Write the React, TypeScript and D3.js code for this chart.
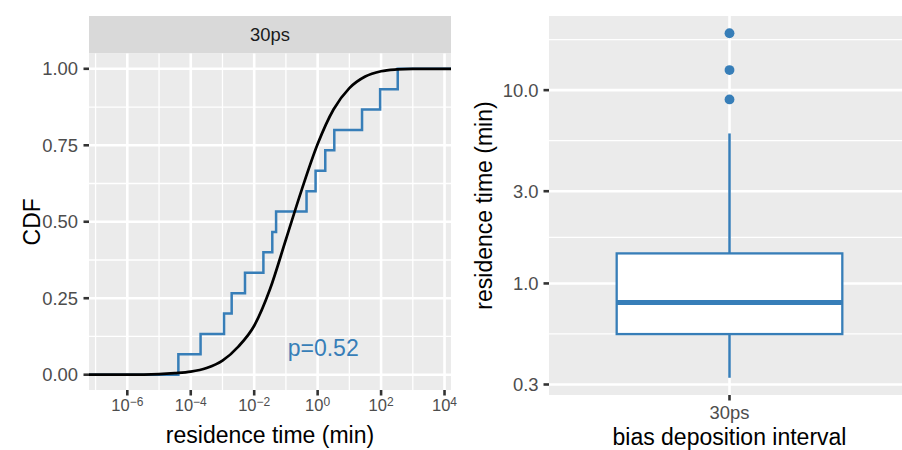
import React from "react";
import * as d3 from "d3";

// ---------- data ----------
const facetLabel = "30ps";
// residence times (min) of the 15 events, read from the ECDF steps
const residenceTimes = [
  4.07e-5, 2.04e-4, 1.12e-3, 1.95e-3, 5.13e-3, 0.0195, 0.0372, 0.049, 0.447,
  0.861, 1.74, 3.35, 25.1, 93.3, 335,
];
// fitted theoretical CDF (black curve)
const curveTime = [
  6.2e-8, 1e-6, 1e-5, 3.16e-5, 1e-4, 3.16e-4, 1e-3, 3.16e-3, 0.01, 0.0316, 0.1,
  0.316, 1, 3.16, 10, 31.6, 100, 316, 1000, 1.6e4,
];
const curveCdf = [
  0, 0.0002, 0.002, 0.005, 0.01, 0.022, 0.046, 0.092, 0.16, 0.28, 0.442, 0.605,
  0.754, 0.867, 0.937, 0.975, 0.992, 0.998, 1.0, 1.0,
];
const pLabel = "p=0.52";
const pLabelPos = { x: 1.5, y: 0.06 };

const xLimits = [6.2e-8, 1.6e4];
const xMajorExp = [-6, -4, -2, 0, 2, 4];
const xMinorExp = [-7, -5, -3, -1, 1, 3];
const yCdfTicks = [0, 0.25, 0.5, 0.75, 1];
const yCdfTickLabels = ["0.00", "0.25", "0.50", "0.75", "1.00"];
const yCdfMinor = [0.125, 0.375, 0.625, 0.875];

// boxplot summary (min)
const boxCategories = ["30ps"];
const boxLowerWhisker = [0.325];
const boxQ1 = [0.547];
const boxMedian = [0.797];
const boxQ3 = [1.43];
const boxUpperWhisker = [5.97];
const boxOutliers = [[8.95, 12.7, 19.7]];
const yBoxTicks = [0.3, 1, 3, 10];
const yBoxTickLabels = ["0.3", "1.0", "3.0", "10.0"];

// ---------- style ----------
const BLUE = "#377EB8";
const PANEL = "#EBEBEB";
const STRIP = "#D9D9D9";
const TICKCOL = "#333333";
const LABCOL = "#4D4D4D";
const FONT = "'Liberation Sans', Arial, Helvetica, sans-serif";
const TICK_FS = 18.4;
const TITLE_FS = 23;
const MAJ = 2.6;
const MIN = 1.3;

export default function App() {
  const W = 902;
  const H = 450;

  // Left panel geometry
  const L = { x0: 89, x1: 451, y0: 53.5, y1: 390, stripTop: 16 };
  const x = d3.scaleLog().domain(xLimits).range([L.x0, L.x1]);
  const y = d3.scaleLinear().domain([-0.05, 1.05]).range([L.y1, L.y0]);

  const n = residenceTimes.length;
  const sorted = [...residenceTimes].sort((a, b) => a - b);
  const ecdfPts: [number, number][] = [[xLimits[0], 0]];
  sorted.forEach((t, i) => ecdfPts.push([t, (i + 1) / n]));
  ecdfPts.push([xLimits[1], 1]);
  const stepLine = d3
    .line<[number, number]>()
    .x((d) => x(d[0]))
    .y((d) => y(d[1]))
    .curve(d3.curveStepAfter);
  const curvePts: [number, number][] = curveTime.map((t, i) => [t, curveCdf[i]]);
  const smoothLine = d3
    .line<[number, number]>()
    .x((d) => x(d[0]))
    .y((d) => y(d[1]))
    .curve(d3.curveMonotoneX);

  // Right panel geometry
  const R = { x0: 549, x1: 910, y0: 16, y1: 395 };
  const allVals = [
    ...boxLowerWhisker,
    ...boxUpperWhisker,
    ...boxOutliers.flat(),
  ];
  const lmin = Math.log10(d3.min(allVals)!);
  const lmax = Math.log10(d3.max(allVals)!);
  const ex = (lmax - lmin) * 0.05;
  const yb = d3
    .scaleLog()
    .domain([Math.pow(10, lmin - ex), Math.pow(10, lmax + ex)])
    .range([R.y1, R.y0]);
  const xb = d3.scalePoint<string>().domain(boxCategories).range([R.x0, R.x1]).padding(0.5);
  const unit = (R.x1 - R.x0) / 1.2;
  const boxW = unit * 0.75;
  const yBoxMinor: number[] = [];
  const logTicks = yBoxTicks.map(Math.log10);
  for (let i = 0; i < logTicks.length - 1; i++)
    yBoxMinor.push(Math.pow(10, (logTicks[i] + logTicks[i + 1]) / 2));
  yBoxMinor.push(Math.pow(10, logTicks[logTicks.length - 1] + (logTicks[3] - logTicks[2]) / 2));

  return (
    <svg
      width={W}
      height={H}
      style={{ position: "absolute", left: 0, top: 0, fontFamily: FONT }}
    >
      <rect width={W} height={H} fill="white" />
      {/* ---------- left panel ---------- */}
      <rect x={L.x0} y={L.stripTop} width={L.x1 - L.x0} height={L.y0 - L.stripTop} fill={STRIP} />
      <text
        x={(L.x0 + L.x1) / 2}
        y={(L.stripTop + L.y0) / 2}
        dy="0.36em"
        textAnchor="middle"
        fontSize={TICK_FS}
        fill="#1A1A1A"
      >
        {facetLabel}
      </text>
      <rect x={L.x0} y={L.y0} width={L.x1 - L.x0} height={L.y1 - L.y0} fill={PANEL} />
      {yCdfMinor.map((v) => (
        <line key={"ym" + v} x1={L.x0} x2={L.x1} y1={y(v)} y2={y(v)} stroke="white" strokeWidth={MIN} />
      ))}
      {xMinorExp.map((e) => (
        <line key={"xm" + e} x1={x(Math.pow(10, e))} x2={x(Math.pow(10, e))} y1={L.y0} y2={L.y1} stroke="white" strokeWidth={MIN} />
      ))}
      {yCdfTicks.map((v) => (
        <line key={"yM" + v} x1={L.x0} x2={L.x1} y1={y(v)} y2={y(v)} stroke="white" strokeWidth={MAJ} />
      ))}
      {xMajorExp.map((e) => (
        <line key={"xM" + e} x1={x(Math.pow(10, e))} x2={x(Math.pow(10, e))} y1={L.y0} y2={L.y1} stroke="white" strokeWidth={MAJ} />
      ))}
      <path d={stepLine(ecdfPts)!} fill="none" stroke={BLUE} strokeWidth={2.5} />
      <path d={smoothLine(curvePts)!} fill="none" stroke="black" strokeWidth={2.7} />
      <text
        x={x(pLabelPos.x)}
        y={y(pLabelPos.y)}
        textAnchor="middle"
        fontSize={TITLE_FS}
        fill={BLUE}
      >
        {pLabel}
      </text>
      {/* left y axis */}
      {yCdfTicks.map((v, i) => (
        <g key={"yt" + v}>
          <line x1={L.x0 - 5.5} x2={L.x0} y1={y(v)} y2={y(v)} stroke={TICKCOL} strokeWidth={MAJ} />
          <text x={L.x0 - 11} y={y(v)} dy="0.36em" textAnchor="end" fontSize={TICK_FS} fill={LABCOL}>
            {yCdfTickLabels[i]}
          </text>
        </g>
      ))}
      {/* left x axis */}
      {xMajorExp.map((e) => {
        const px = x(Math.pow(10, e));
        return (
          <g key={"xt" + e}>
            <line x1={px} x2={px} y1={L.y1} y2={L.y1 + 5.5} stroke={TICKCOL} strokeWidth={MAJ} />
            <text x={px} y={410.5} textAnchor="middle" fill={LABCOL} fontSize={16.5}>
              10
              <tspan fontSize={12} dy={-5}>
                {e < 0 ? "\u2212" + Math.abs(e) : String(e)}
              </tspan>
            </text>
          </g>
        );
      })}
      <text x={(L.x0 + L.x1) / 2} y={443} textAnchor="middle" fontSize={TITLE_FS} fill="black">
        residence time (min)
      </text>
      <text
        transform={`translate(40, ${(L.y0 + L.y1) / 2}) rotate(-90)`}
        textAnchor="middle"
        fontSize={TITLE_FS}
        fill="black"
      >
        CDF
      </text>

      {/* ---------- right panel ---------- */}
      <rect x={R.x0} y={R.y0} width={R.x1 - R.x0} height={R.y1 - R.y0} fill={PANEL} />
      {yBoxMinor.map((v) => (
        <line key={"bm" + v} x1={R.x0} x2={R.x1} y1={yb(v)} y2={yb(v)} stroke="white" strokeWidth={MIN} />
      ))}
      {yBoxTicks.map((v) => (
        <line key={"bM" + v} x1={R.x0} x2={R.x1} y1={yb(v)} y2={yb(v)} stroke="white" strokeWidth={MAJ} />
      ))}
      {boxCategories.map((c) => (
        <line key={"bx" + c} x1={xb(c)!} x2={xb(c)!} y1={R.y0} y2={R.y1} stroke="white" strokeWidth={MAJ} />
      ))}
      {boxCategories.map((c, i) => {
        const cx = xb(c)!;
        return (
          <g key={"box" + c}>
            <line x1={cx} x2={cx} y1={yb(boxQ3[i])} y2={yb(boxUpperWhisker[i])} stroke={BLUE} strokeWidth={2.5} />
            <line x1={cx} x2={cx} y1={yb(boxQ1[i])} y2={yb(boxLowerWhisker[i])} stroke={BLUE} strokeWidth={2.5} />
            <rect
              x={cx - boxW / 2}
              y={yb(boxQ3[i])}
              width={boxW}
              height={yb(boxQ1[i]) - yb(boxQ3[i])}
              fill="white"
              stroke={BLUE}
              strokeWidth={2.3}
            />
            <line x1={cx - boxW / 2} x2={cx + boxW / 2} y1={yb(boxMedian[i])} y2={yb(boxMedian[i])} stroke={BLUE} strokeWidth={5} />
            {boxOutliers[i].map((o) => (
              <circle key={"o" + o} cx={cx} cy={yb(o)} r={4.9} fill={BLUE} />
            ))}
          </g>
        );
      })}
      {/* right y axis */}
      {yBoxTicks.map((v, i) => (
        <g key={"byt" + v}>
          <line x1={R.x0 - 5.5} x2={R.x0} y1={yb(v)} y2={yb(v)} stroke={TICKCOL} strokeWidth={MAJ} />
          <text x={R.x0 - 10.5} y={yb(v)} dy="0.36em" textAnchor="end" fontSize={TICK_FS} fill={LABCOL}>
            {yBoxTickLabels[i]}
          </text>
        </g>
      ))}
      {/* right x axis */}
      {boxCategories.map((c) => (
        <g key={"bxt" + c}>
          <line x1={xb(c)!} x2={xb(c)!} y1={R.y1} y2={R.y1 + 5.5} stroke={TICKCOL} strokeWidth={MAJ} />
          <text x={xb(c)!} y={418.5} textAnchor="middle" fontSize={TICK_FS} fill={LABCOL}>
            {c}
          </text>
        </g>
      ))}
      <text x={(R.x0 + R.x1) / 2} y={445} textAnchor="middle" fontSize={TITLE_FS} fill="black">
        bias deposition interval
      </text>
      <text
        transform={`translate(492, ${(R.y0 + R.y1) / 2}) rotate(-90)`}
        textAnchor="middle"
        fontSize={TITLE_FS}
        fill="black"
      >
        residence time (min)
      </text>
    </svg>
  );
}
